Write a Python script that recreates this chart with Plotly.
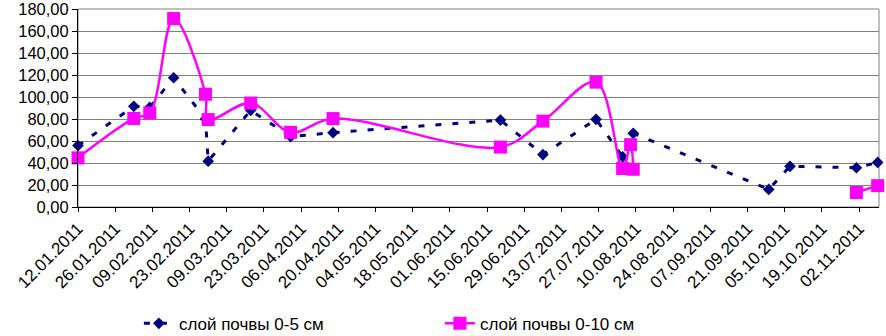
import plotly.graph_objects as go

# ---- data ----
dates_0_5 = ["2011-01-12", "2011-02-02", "2011-02-08", "2011-02-17", "2011-03-01",
             "2011-03-02", "2011-03-18", "2011-04-02", "2011-04-18", "2011-06-20",
             "2011-07-06", "2011-07-26", "2011-08-05", "2011-08-09", "2011-09-29",
             "2011-10-07", "2011-11-01", "2011-11-09"]
values_0_5 = [55.8, 91.5, 90.5, 117.5, 80.0,
              41.7, 87.9, 64.0, 67.6, 79.0,
              47.7, 79.7, 45.6, 67.0, 16.0,
              37.0, 35.7, 40.5]

dates_0_10 = ["2011-01-12", "2011-02-02", "2011-02-08", "2011-02-17", "2011-03-01",
              "2011-03-02", "2011-03-18", "2011-04-02", "2011-04-18", "2011-06-20",
              "2011-07-06", "2011-07-26", "2011-08-05", "2011-08-08", "2011-08-09",
              "2011-09-29", "2011-11-01", "2011-11-09"]
values_0_10 = [44.7, 80.5, 85.5, 171.3, 102.5,
               79.5, 94.5, 67.9, 80.4, 54.5,
               78.1, 113.5, 35.0, 56.7, 34.3,
               None, 13.2, 19.4]

series_names = ["слой почвы 0-5 см", "слой почвы 0-10 см"]
x_range = ["2011-01-12", "2011-11-09 12:00"]
x_tick0 = "2011-01-12"
x_tick_days = 14
y_range = [0, 180.001]
y_step = 20

FONT = "Liberation Sans, Arial, sans-serif"

fig = go.Figure()
fig.add_trace(go.Scatter(
    x=dates_0_5, y=values_0_5, name=series_names[0],
    mode="lines+markers",
    line=dict(color="#000080", width=3, dash="6px,11px"),
    marker=dict(symbol="diamond", size=9, color="#000080",
                line=dict(width=0)),
    cliponaxis=False,
))
fig.add_trace(go.Scatter(
    x=dates_0_10, y=values_0_10, name=series_names[1],
    mode="lines+markers",
    line=dict(color="#FF00FF", width=2.5, shape="spline", smoothing=1),
    marker=dict(symbol="square", size=13, color="#FF00FF",
                line=dict(width=0)),
    connectgaps=False,
    cliponaxis=False,
))

fig.update_layout(
    width=886, height=336,
    margin=dict(l=78, r=7, t=9, b=129, autoexpand=False),
    paper_bgcolor="white", plot_bgcolor="white",
    separators=", ",
    font=dict(family=FONT, size=17, color="black"),
    showlegend=True,
    legend=dict(
        orientation="h", x=0.076, xanchor="left", y=-0.59, yanchor="middle",
        font=dict(family=FONT, size=17, color="black"),
        entrywidth=256, entrywidthmode="pixels",
        bgcolor="rgba(0,0,0,0)",
    ),
    shapes=[dict(type="rect", xref="paper", yref="paper", x0=0, x1=1, y0=0, y1=1,
                 line=dict(color="#808080", width=1), layer="below")],
)

fig.update_xaxes(
    type="date", range=x_range, automargin=False,
    tick0=x_tick0, dtick=x_tick_days * 86400000,
    tickformat="%d.%m.%Y", tickangle=-45,
    ticks="outside", ticklen=4, tickcolor="black",
    showline=True, linecolor="black", linewidth=1,
    showgrid=False, zeroline=False, ticklabeloverflow="allow",
    tickfont=dict(family=FONT, size=17, color="black"),
)
fig.update_yaxes(
    range=y_range, dtick=y_step, tick0=0, tickformat=".2f", automargin=False,
    ticks="outside", ticklen=5, tickcolor="black",
    showline=True, linecolor="black", linewidth=1,
    showgrid=True, gridcolor="#808080", gridwidth=1,
    zeroline=False, ticklabeloverflow="allow",
    tickfont=dict(family=FONT, size=16.5, color="black"),
)

fig.write_html(
    "out.html",
    config={"displayModeBar": False},
    post_script="document.body.style.margin='0';document.body.style.padding='0';",
)
